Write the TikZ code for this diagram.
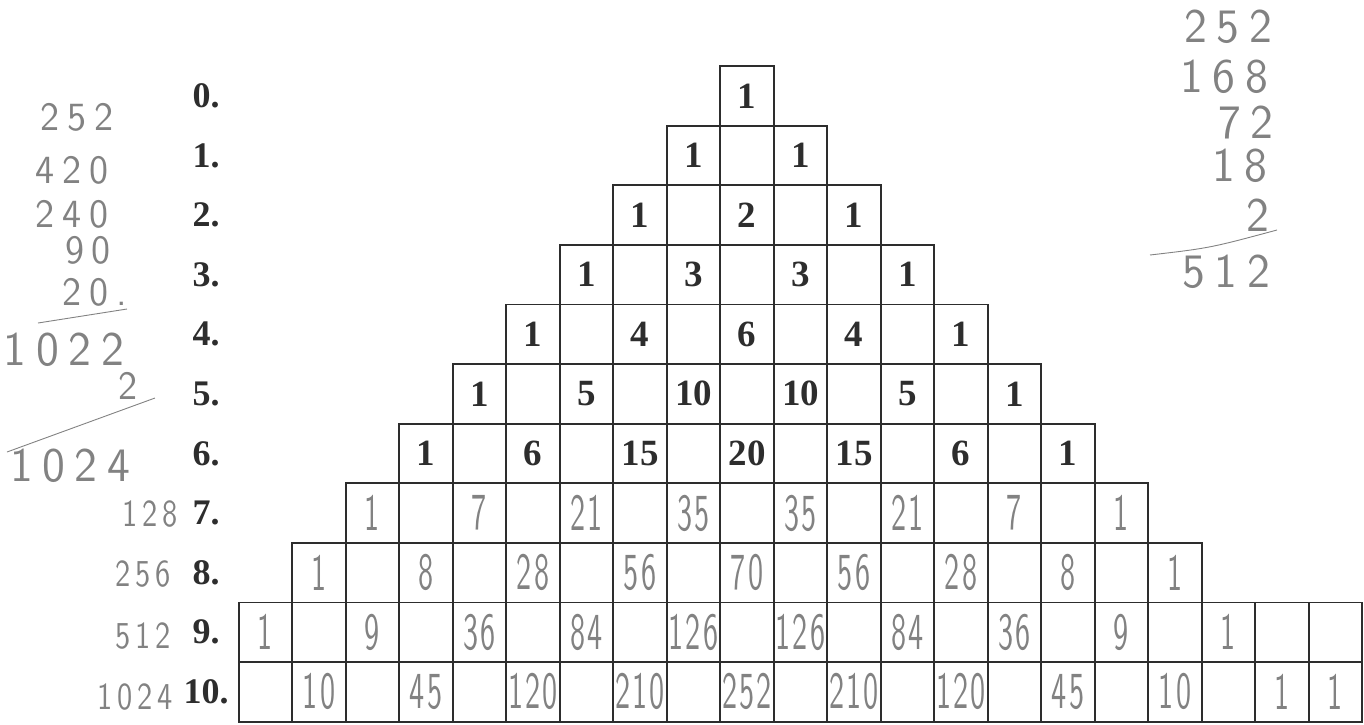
\documentclass[tikz,border=0pt]{standalone}
\usepackage{fontspec}
\setmainfont{Liberation Serif}
\newfontfamily\handA{lmsans10-regular.otf}[FakeStretch=0.95, LetterSpace=20]
\newfontfamily\handB{lmsans10-regular.otf}[FakeStretch=0.8, LetterSpace=12]
\newfontfamily\handC{lmsans10-regular.otf}[FakeStretch=0.58, LetterSpace=4]
\definecolor{pencil}{RGB}{130,130,130}
\definecolor{ink}{RGB}{45,45,45}
\tikzset{
  cell/.style={draw=ink, line width=1.8pt, minimum width=53.5pt, minimum height=59.6pt, inner sep=0pt},
  printed/.style={font=\fontsize{37}{37}\selectfont\bfseries, text=ink, inner sep=0pt},
  rowlabel/.style={font=\fontsize{36}{36}\selectfont\bfseries, text=ink, inner sep=0pt},
  hand/.style={font=\handA\fontsize{40}{40}\selectfont, text=pencil, inner sep=0pt},
  handsmall/.style={font=\handB\fontsize{38}{38}\selectfont, text=pencil, inner sep=0pt},
  handbig/.style={font=\handA\fontsize{48}{48}\selectfont, text=pencil, inner sep=0pt},
  handcell/.style={font=\handC\fontsize{52}{52}\selectfont, text=pencil, inner sep=0pt},
  handline/.style={draw=pencil, line width=0.9pt},
}
\begin{document}
\begin{tikzpicture}[x=1pt,y=-1pt]
\useasboundingbox (0,0) rectangle (1364,724);
% grid rows 0..8
\foreach \r in {0,...,8}{
  \pgfmathtruncatemacro\lo{-\r}
  \foreach \c in {\lo,...,\r}{
    \node[cell] (r\r c\c) at ({747+53.5*\c},{95.8+59.6*\r}) {};
  }
}
% rows 9 and 10
\foreach \r in {9,10}{
  \foreach \c in {-9,...,11}{
    \node[cell] (r\r c\c) at ({747+53.5*\c},{95.8+59.6*\r}) {};
  }
}
% row labels
\foreach \r in {0,...,10}{
  \node[rowlabel] (lab\r) at (206,{95.8+59.6*\r}) {\r.};
}
% printed numbers
\foreach \r/\c/\v in {0/0/1, 1/-1/1, 1/1/1, 2/-2/1, 2/0/2, 2/2/1,
  3/-3/1, 3/-1/3, 3/1/3, 3/3/1, 4/-4/1, 4/-2/4, 4/0/6, 4/2/4, 4/4/1,
  5/-5/1, 5/-3/5, 5/-1/10, 5/1/10, 5/3/5, 5/5/1,
  6/-6/1, 6/-4/6, 6/-2/15, 6/0/20, 6/2/15, 6/4/6, 6/6/1}{
  \node[printed] (n\r c\c) at (r\r c\c) {\v};
}
% handwritten numbers
\foreach \r/\c/\v in {7/-7/1, 7/-5/7, 7/-3/21, 7/-1/35, 7/1/35, 7/3/21, 7/5/7, 7/7/1,
  8/-8/1, 8/-6/8, 8/-4/28, 8/-2/56, 8/0/70, 8/2/56, 8/4/28, 8/6/8, 8/8/1,
  9/-9/1, 9/-7/9, 9/-5/36, 9/-3/84, 9/-1/126, 9/1/126, 9/3/84, 9/5/36, 9/7/9, 9/9/1,
  10/-8/10, 10/-6/45, 10/-4/120, 10/-2/210, 10/0/252, 10/2/210, 10/4/120, 10/6/45, 10/8/10, 10/10/1, 10/11/1}{
  \node[handcell] (n\r c\c) at (r\r c\c) {\v};
}
% left notes (row sums)
\node[hand] (l1) at (77,117) {252};
\node[hand] (l2) at (72,170) {420};
\node[hand] (l3) at (72,214) {240};
\node[hand] (l4) at (88,250) {90};
\node[hand] (l5) at (95,292) {20.};
\coordinate (la1) at (38,323);
\coordinate (la2) at (127,309);
\draw[handline] (la1) -- (la2);
\node[handbig] (l6) at (64,350) {1022};
\node[hand] (l7) at (128,386) {2};
\coordinate (lb1) at (7,452);
\coordinate (lb2) at (155,398);
\draw[handline] (lb1) -- (lb2);
\node[handbig] (l8) at (70,466) {1024};
% left notes rows 7-10
\node[handsmall] (s7) at (150,514) {128};
\node[handsmall] (s8) at (143,574) {256};
\node[handsmall] (s9) at (143,636) {512};
\node[handsmall] (s10) at (135,697) {1024};
% right notes
\node[handbig] (q1) at (1228,27) {252};
\node[handbig] (q2) at (1224,77) {168};
\node[handbig] (q3) at (1246,122) {72};
\node[handbig] (q4) at (1240,166) {18};
\node[handbig] (q5) at (1258,215) {2};
\coordinate (qa1) at (1150,255);
\coordinate (qa2) at (1277,230);
\draw[handline] (qa1) .. controls (1210,248) .. (qa2);
\node[handbig] (q6) at (1226,272) {512};
\end{tikzpicture}
\end{document}
